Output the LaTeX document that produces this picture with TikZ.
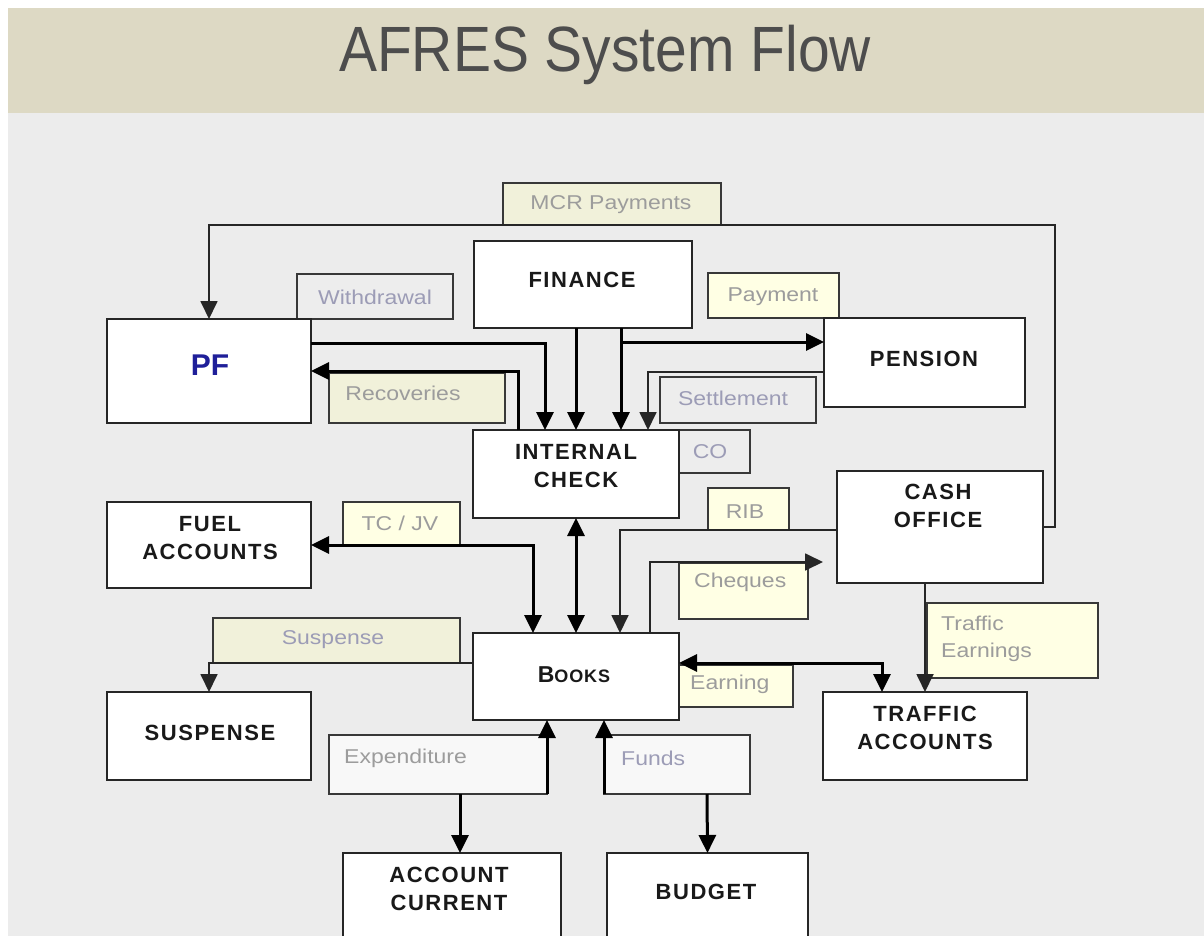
\documentclass[tikz,border=0pt]{standalone}
\usepackage{fontspec}
\setmainfont{Liberation Sans}
\usepackage{graphicx}
\usetikzlibrary{arrows.meta,calc}
\definecolor{band}{HTML}{DDD9C4}
\definecolor{bgc}{HTML}{ECECEC}
\definecolor{ltyel}{HTML}{FFFFE4}
\definecolor{dotyel}{HTML}{F1F1DA}
\definecolor{lgray}{HTML}{EDEDED}
\definecolor{offwhite}{HTML}{F8F8F8}
\definecolor{labtxt}{HTML}{9C9C9C}
\definecolor{labblue}{HTML}{9C9CB6}
\definecolor{pfblue}{HTML}{1F1F99}
\definecolor{titlec}{HTML}{4D4D4D}
\newcommand{\wide}[1]{\scalebox{1.15}[1]{#1}}
\begin{document}
\begin{tikzpicture}[x=1pt,y=-1pt,
 boxnode/.style={draw=black!85, line width=1.8pt, fill=white, outer sep=0pt, inner sep=0pt},
 labbox/.style={draw=black!78, line width=1.4pt, outer sep=0pt, inner sep=0pt},
 boxtxt/.style={font=\fontsize{22}{28}\selectfont\bfseries\addfontfeatures{LetterSpace=7}, align=center, text=black!90, inner sep=0pt},
 labtext/.style={font=\fontsize{20}{27}\selectfont, text=labtxt, align=left, inner sep=0pt},
 >={Triangle[length=18pt,width=17pt]},
 thickline/.style={line width=3pt, draw=black},
 thinline/.style={line width=1.8pt, draw=black!85},
]
\useasboundingbox (0,0) rectangle (1204,936);
\fill[white] (0,0) rectangle (1204,936);
\fill[band] (8,8) rectangle (1204,113);
\fill[bgc] (8,113) rectangle (1204,936);
\node[font=\fontsize{64}{70}\selectfont, text=titlec, anchor=base, inner sep=0pt] (title) at (605,72) {\scalebox{0.89}[1]{AFRES System Flow}};

% label boxes
\node[labbox, fill=dotyel, minimum width=218, minimum height=42] (mcrL) at (612,204) {};
\node[labbox, fill=lgray, minimum width=156, minimum height=45] (wdL) at (375,296.5) {};
\node[labbox, fill=ltyel, minimum width=131, minimum height=45] (payL) at (773.5,295.5) {};
\node[labbox, fill=dotyel, minimum width=176, minimum height=50] (recL) at (417,398) {};
\node[labbox, fill=lgray, minimum width=156, minimum height=46] (setL) at (738,400) {};
\node[labbox, fill=lgray, minimum width=71, minimum height=43] (coL) at (714.5,451.5) {};
\node[labbox, fill=ltyel, minimum width=81, minimum height=42] (ribL) at (748.5,509) {};
\node[labbox, fill=ltyel, minimum width=117, minimum height=43] (tcL) at (401.5,523.5) {};
\node[labbox, fill=ltyel, minimum width=129, minimum height=56] (chqL) at (743.5,591) {};
\node[labbox, fill=ltyel, minimum width=171, minimum height=75] (trafL) at (1012.5,640.5) {};
\node[labbox, fill=dotyel, minimum width=247, minimum height=45] (suspL) at (336.5,640.5) {};
\node[labbox, fill=ltyel, minimum width=114, minimum height=42] (earnL) at (736,686) {};
\node[labbox, fill=offwhite, minimum width=218, minimum height=59] (expL) at (438,764.5) {};
\node[labbox, fill=offwhite, minimum width=146, minimum height=59] (fundsL) at (677,764.5) {};

% main boxes
\node[boxnode, minimum width=218, minimum height=87] (fin) at (583,284.5) {};
\node[boxnode, minimum width=204, minimum height=104] (pf) at (209,371) {};
\node[boxnode, minimum width=201, minimum height=89] (pension) at (924.5,362.5) {};
\node[boxnode, minimum width=206, minimum height=88] (ic) at (576,474) {};
\node[boxnode, minimum width=206, minimum height=112] (cash) at (940,527) {};
\node[boxnode, minimum width=204, minimum height=86] (fuel) at (209,545) {};
\node[boxnode, minimum width=206, minimum height=87] (books) at (576,676.5) {};
\node[boxnode, minimum width=204, minimum height=88] (susp) at (209,736) {};
\node[boxnode, minimum width=204, minimum height=88] (traffic) at (925,736) {};
\node[boxnode, minimum width=218, minimum height=97] (ac) at (452,901.5) {};
\node[boxnode, minimum width=201, minimum height=97] (budget) at (707.5,901.5) {};

% connectors
\draw[thinline,->] (cash.east) -| (1055,225) -| (pf.north);
\draw[thickline,->] ($(pf.north east)+(0,24)$) -| ($(ic.north west)+(72,0)$);
\draw[thickline,->] ($(ic.north west)+(45,0)$) |- ($(pf.north east)+(0,52)$);
\draw[thickline,->] (ic.north |- fin.south) -- (ic.north);
\draw[thickline,->] ($(fin.south)+(38,0)$) -- ($(ic.north)+(45,0)$);
\draw[thickline,->] ($(fin.south)+(38,14)$) -- ($(pension.north west)+(0,24)$);
\draw[thinline,->] ($(pension.north west)+(0,54)$) -| ($(ic.north)+(72,0)$);
\draw[thickline,<->] (ic.south) -- (books.north);
\draw[thickline,<->] ($(fuel.north east)+(0,43)$) -| ($(books.north west)+(60,0)$);
\draw[thinline,->] ($(books.north west)+(0,30)$) -| (susp.north);
\draw[thinline,->] ($(cash.north west)+(0,59)$) -| ($(books.north west)+(147,0)$);
\draw[thinline,->,shorten >=14pt] ($(books.north west)+(177,0)$) |- ($(cash.north west)+(0,91)$);
\draw[thickline,<->] ($(books.north east)+(0,30)$) -| ($(traffic.north west)+(59,0)$);
\draw[thinline,->] ($(cash.south west)+(88,0)$) -- ($(traffic.north west)+(102,0)$);
\draw[thickline,->] (expL.south east) -- ($(books.south west)+(74,0)$);
\draw[thickline,->] ($(expL.south west)+(131,0)$) -- ($(ac.north west)+(117,0)$);
\draw[thickline,->] (fundsL.south west) -- ($(books.south west)+(131,0)$);
\draw[thickline,->] ($(fundsL.south west)+(103,0)$) -- (budget.north);

% box texts
\node[boxtxt] (tfin) at (582,280) {FINANCE};
\node[inner sep=0pt, font=\fontsize{30}{34}\selectfont\bfseries, text=pfblue] (tpf) at (210,365) {PF};
\node[boxtxt] (tpension) at (924,359) {PENSION};
\node[boxtxt] (tic) at (576,466) {INTERNAL\\CHECK};
\node[boxtxt] (tcash) at (938,506) {CASH\\OFFICE};
\node[boxtxt] (tfuel) at (210,538) {FUEL\\ACCOUNTS};
\node[boxtxt, font=\fontsize{23}{28}\selectfont\bfseries\addfontfeatures{LetterSpace=5}] (tbooks) at (574,675) {B{\fontsize{18}{20}\selectfont OOKS}};
\node[boxtxt] (tsusp) at (210,733) {SUSPENSE};
\node[boxtxt] (ttraffic) at (925,728) {TRAFFIC\\ACCOUNTS};
\node[boxtxt] (tac) at (449,889) {ACCOUNT\\CURRENT};
\node[boxtxt] (tbudget) at (706,892) {BUDGET};

% label texts
\node[labtext] (tmcr) at (611,205) {\wide{MCR Payments}};
\node[labtext, text=labblue] (twd) at (375,297) {\wide{Withdrawal}};
\node[labtext] (tpay) at (773,297) {\wide{Payment}};
\node[labtext] (trec) at (403,393) {\wide{Recoveries}};
\node[labtext, text=labblue] (tset) at (733,398) {\wide{Settlement}};
\node[labtext, text=labblue] (tco) at (710,452) {\wide{CO}};
\node[labtext] (trib) at (745,512) {\wide{RIB}};
\node[labtext] (ttc) at (400,523) {\wide{TC / JV}};
\node[labtext, anchor=west] (tchq) at (694,582) {\wide{Cheques}};
\node[labtext, anchor=west] (ttraf) at (941,638.5) {\wide{Traffic}\\\wide{Earnings}};
\node[labtext, text=labblue] (tsuspL) at (333,640) {\wide{Suspense}};
\node[labtext, anchor=west] (tearn) at (690,684) {\wide{Earning}};
\node[labtext, anchor=west] (texp) at (344,758) {\wide{Expenditure}};
\node[labtext, text=labblue, anchor=west] (tfunds) at (621,758) {\wide{Funds}};
\end{tikzpicture}
\end{document}
